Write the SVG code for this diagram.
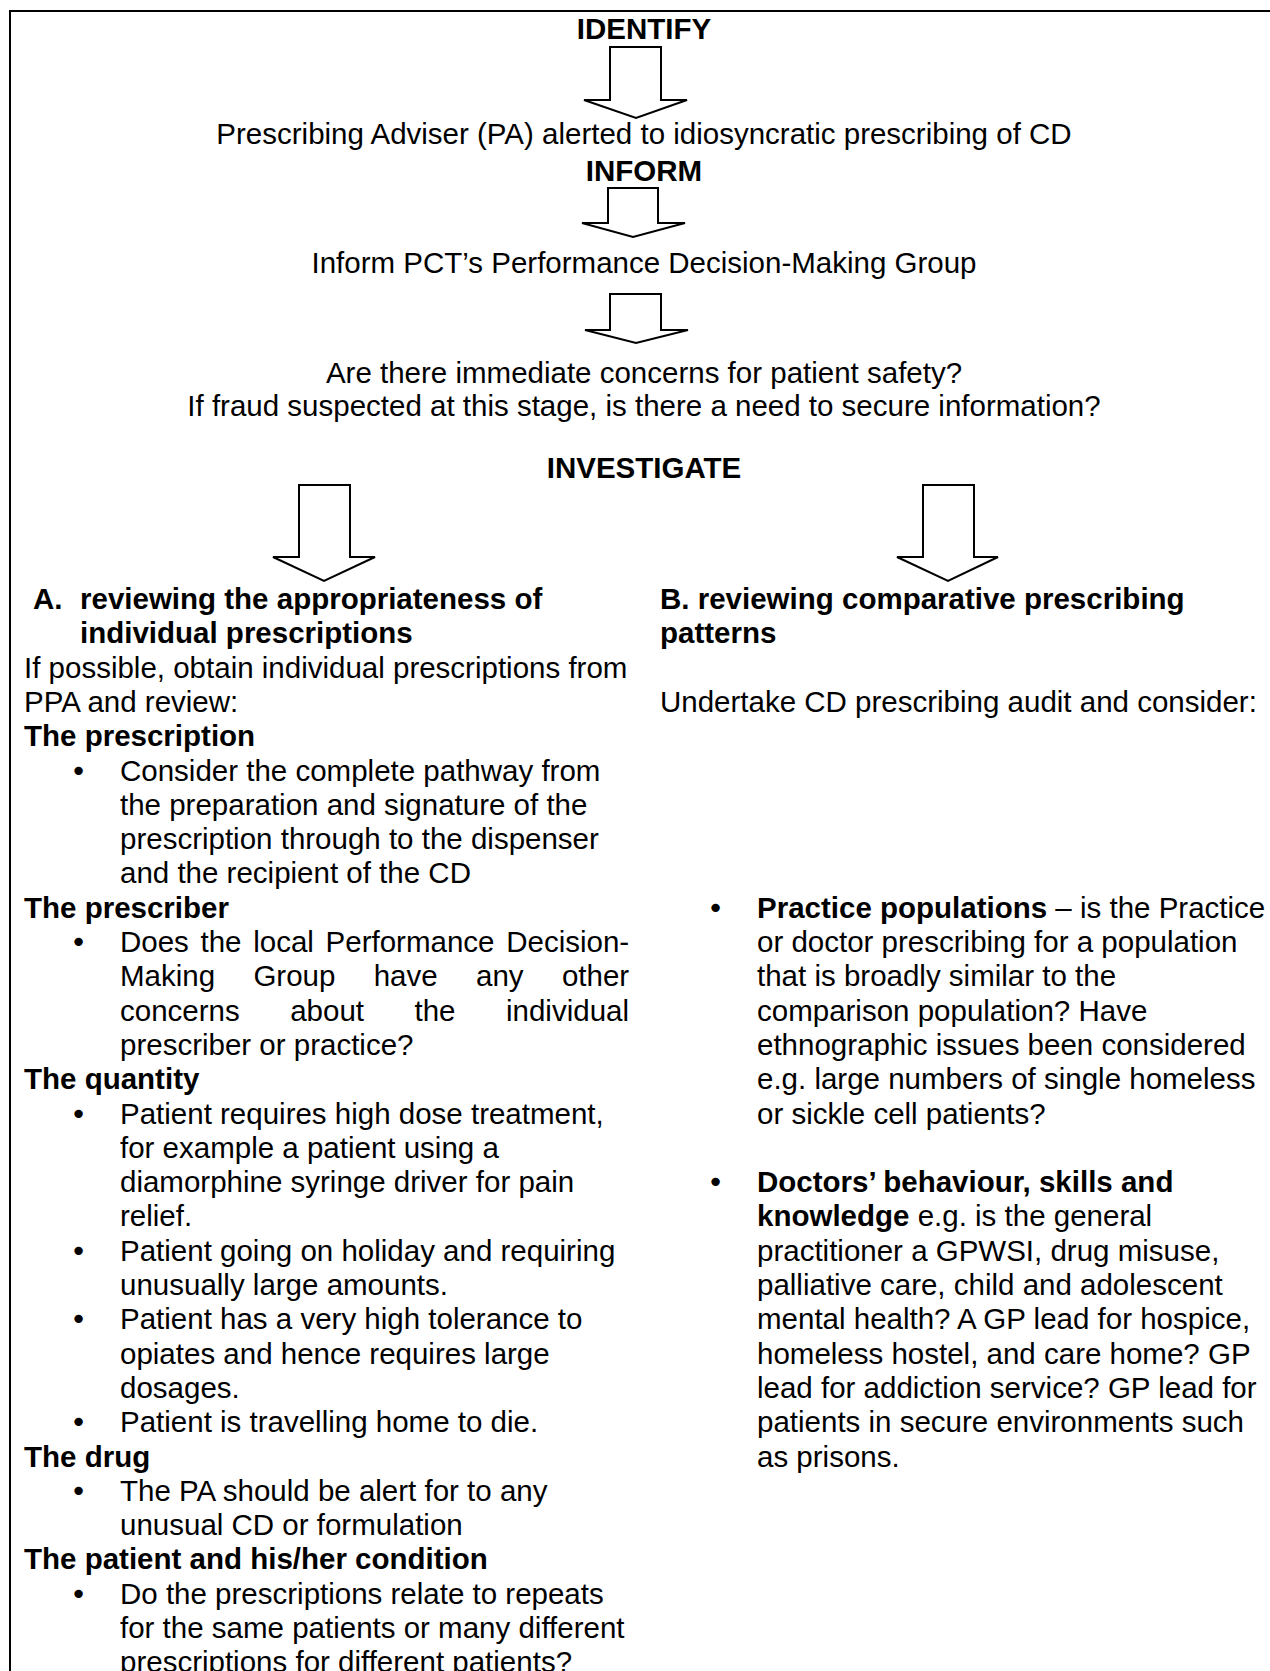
<svg xmlns="http://www.w3.org/2000/svg" width="1270" height="1671" viewBox="0 0 1270 1671">
<style>
text{font-family:"Liberation Sans",Arial,Helvetica,sans-serif;font-size:29.5px;fill:#000}
.b{font-weight:bold}
.c{text-anchor:middle}
.bl{font-family:"DejaVu Sans",sans-serif;font-size:29px}
.arrow{fill:#fff;stroke:#000;stroke-width:2;stroke-linejoin:miter}
.frame{fill:none;stroke:#000;stroke-width:2}
</style>
<rect width="1270" height="1671" fill="#fff"/>
<path class="frame" d="M10,1671 V11 H1270"/>
<g id="connectors">
<path class="arrow" d="M610,47 H661 V100 H687 L636,118 L584,100 H610 Z"/>
<path class="arrow" d="M608,188 H658 V223 H685 L633,237 L582,223 H608 Z"/>
<path class="arrow" d="M610,294 H661 V330 H688 L636,343 L585,330 H610 Z"/>
<path class="arrow" d="M299,485 H350 V557 H375 L324,581 L273,557 H299 Z"/>
<path class="arrow" d="M923,485 H974 V557 H998 L948,581 L897,557 H923 Z"/>
</g>
<g id="identify"><text class="b c" x="644" y="39">IDENTIFY</text></g>
<g id="alert"><text class="c" x="644" y="144">Prescribing Adviser (PA) alerted to idiosyncratic prescribing of CD</text></g>
<g id="inform"><text class="b c" x="644" y="181">INFORM</text></g>
<g id="inform-pct"><text class="c" x="644" y="273">Inform PCT’s Performance Decision-Making Group</text></g>
<g id="concerns">
<text class="c" x="644" y="383">Are there immediate concerns for patient safety?</text>
<text class="c" x="644" y="416">If fraud suspected at this stage, is there a need to secure information?</text>
</g>
<g id="investigate"><text class="b c" x="644" y="478">INVESTIGATE</text></g>
<g id="branch-a">
<text class="b" x="33" y="609">A.</text>
<text class="b" x="80" y="609">reviewing the appropriateness of</text>
<text class="b" x="80" y="643.3">individual prescriptions</text>
<text x="24" y="677.6">If possible, obtain individual prescriptions from</text>
<text x="24" y="711.9">PPA and review:</text>
<text class="b" x="24" y="746.2">The prescription</text>
<text class="bl" x="70" y="780.5">•</text>
<text x="120" y="780.5">Consider the complete pathway from</text>
<text x="120" y="814.8">the preparation and signature of the</text>
<text x="120" y="849.1">prescription through to the dispenser</text>
<text x="120" y="883.4">and the recipient of the CD</text>
<text class="b" x="24" y="917.7">The prescriber</text>
<text class="bl" x="70" y="952">•</text>
<text y="952"><tspan x="120">Does</tspan> <tspan x="200.5">the</tspan> <tspan x="253.2">local</tspan> <tspan x="325.6">Performance</tspan> <tspan x="506.2">Decision-</tspan></text>
<text y="986.3"><tspan x="120">Making</tspan> <tspan x="253.4">Group</tspan> <tspan x="373.7">have</tspan> <tspan x="476">any</tspan> <tspan x="561.9">other</tspan></text>
<text y="1020.6"><tspan x="120">concerns</tspan> <tspan x="290.2">about</tspan> <tspan x="414.5">the</tspan> <tspan x="506">individual</tspan></text>
<text x="120" y="1054.9">prescriber or practice?</text>
<text class="b" x="24" y="1089.2">The quantity</text>
<text class="bl" x="70" y="1123.5">•</text>
<text x="120" y="1123.5">Patient requires high dose treatment,</text>
<text x="120" y="1157.8">for example a patient using a</text>
<text x="120" y="1192.1">diamorphine syringe driver for pain</text>
<text x="120" y="1226.4">relief.</text>
<text class="bl" x="70" y="1260.7">•</text>
<text x="120" y="1260.7">Patient going on holiday and requiring</text>
<text x="120" y="1295">unusually large amounts.</text>
<text class="bl" x="70" y="1329.3">•</text>
<text x="120" y="1329.3">Patient has a very high tolerance to</text>
<text x="120" y="1363.6">opiates and hence requires large</text>
<text x="120" y="1397.9">dosages.</text>
<text class="bl" x="70" y="1432.2">•</text>
<text x="120" y="1432.2">Patient is travelling home to die.</text>
<text class="b" x="24" y="1466.5">The drug</text>
<text class="bl" x="70" y="1500.8">•</text>
<text x="120" y="1500.8">The PA should be alert for to any</text>
<text x="120" y="1535.1">unusual CD or formulation</text>
<text class="b" x="24" y="1569.4">The patient and his/her condition</text>
<text class="bl" x="70" y="1603.7">•</text>
<text x="120" y="1603.7">Do the prescriptions relate to repeats</text>
<text x="120" y="1638">for the same patients or many different</text>
<text x="120" y="1672.3">prescriptions for different patients?</text>
</g>
<g id="branch-b">
<text class="b" x="660" y="609">B. reviewing comparative prescribing</text>
<text class="b" x="660" y="643.3">patterns</text>
<text x="660" y="711.9">Undertake CD prescribing audit and consider:</text>
<text class="bl" x="707" y="917.7">•</text>
<text x="757" y="917.7"><tspan class="b">Practice populations</tspan> – is the Practice</text>
<text x="757" y="952">or doctor prescribing for a population</text>
<text x="757" y="986.3">that is broadly similar to the</text>
<text x="757" y="1020.6">comparison population? Have</text>
<text x="757" y="1054.9">ethnographic issues been considered</text>
<text x="757" y="1089.2">e.g. large numbers of single homeless</text>
<text x="757" y="1123.5">or sickle cell patients?</text>
<text class="bl" x="707" y="1192.1">•</text>
<text class="b" x="757" y="1192.1">Doctors’ behaviour, skills and</text>
<text x="757" y="1226.4"><tspan class="b">knowledge</tspan> e.g. is the general</text>
<text x="757" y="1260.7">practitioner a GPWSI, drug misuse,</text>
<text x="757" y="1295">palliative care, child and adolescent</text>
<text x="757" y="1329.3">mental health? A GP lead for hospice,</text>
<text x="757" y="1363.6">homeless hostel, and care home? GP</text>
<text x="757" y="1397.9">lead for addiction service? GP lead for</text>
<text x="757" y="1432.2">patients in secure environments such</text>
<text x="757" y="1466.5">as prisons.</text>
</g>
</svg>
